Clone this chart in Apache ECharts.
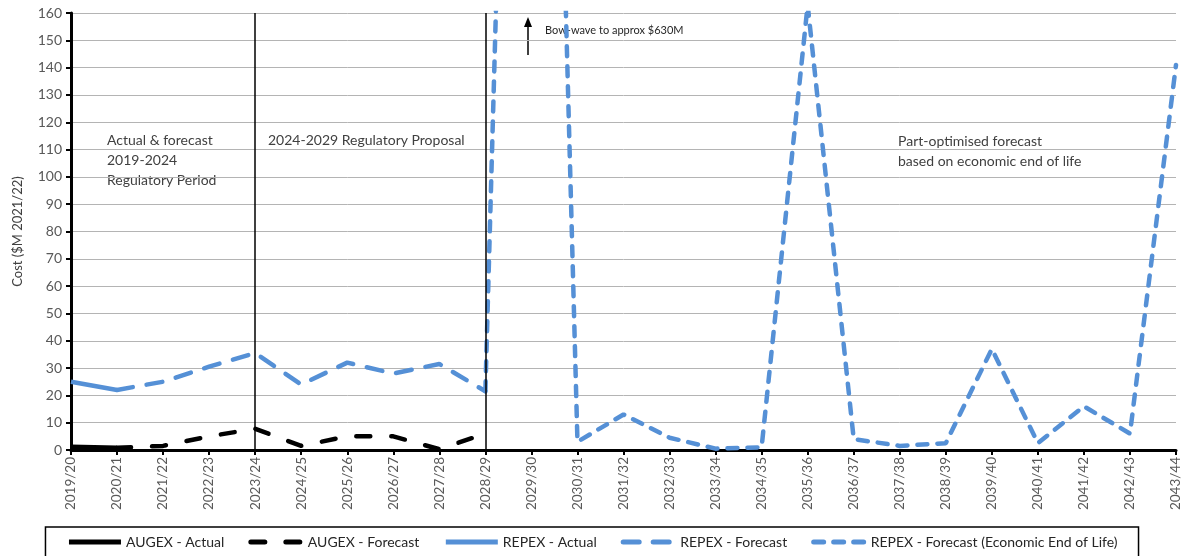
<!DOCTYPE html>
<html>
<head>
<meta charset="utf-8">
<script src="https://cdn.jsdelivr.net/npm/echarts@6/dist/echarts.min.js"></script>
<style>
html,body{margin:0;padding:0;background:#fff;}
#chart{width:1184px;height:556px;}
</style>
</head>
<body>
<div id="chart"></div>
<script>
const categories = ['2019/20','2020/21','2021/22','2022/23','2023/24','2024/25','2025/26','2026/27','2027/28','2028/29','2029/30','2030/31','2031/32','2032/33','2033/34','2034/35','2035/36','2036/37','2037/38','2038/39','2039/40','2040/41','2041/42','2042/43','2043/44'];
const augexActual   = [1.2, 0.8, null, null, null, null, null, null, null, null, null, null, null, null, null, null, null, null, null, null, null, null, null, null, null];
const augexForecast = [null, 0.8, 1.5, 5, 7.8, 1.5, 5, 5, 0.3, 6, null, null, null, null, null, null, null, null, null, null, null, null, null, null, null];
const repexActual   = [25, 22, null, null, null, null, null, null, null, null, null, null, null, null, null, null, null, null, null, null, null, null, null, null, null];
const repexForecast = [null, 22, 25, 30.5, 35.5, 24, 32, 28, 31.5, 21.5, null, null, null, null, null, null, null, null, null, null, null, null, null, null, null];
const repexEEoL     = [null, null, null, null, null, null, null, null, null, 21.5, 630, 3, 13, 4.5, 0.5, 1, 163, 4, 1.5, 2.5, 37, 2.5, 16, 6, 141];
const periodLines = ['2023/24', '2028/29'];
const yTicks = {min: 0, max: 160, interval: 10};

const FONT = 'Lato, "Open Sans", sans-serif';
const BLUE = '#5590d6';
const LW = 4.5;
const chart = echarts.init(document.getElementById('chart'));
chart.setOption({
  animation: false,
  textStyle: {fontFamily: FONT},
  grid: {left: 71, right: 8, top: 13, bottom: 106, containLabel: false},
  xAxis: {
    type: 'category', data: categories, boundaryGap: false,
    axisLine: {lineStyle: {color: '#000', width: 3}},
    axisTick: {show: true, length: 5, lineStyle: {color: '#000', width: 2}},
    axisLabel: {rotate: 90, color: '#595959', fontSize: 13.5, fontFamily: FONT, margin: 7},
    splitLine: {show: false}
  },
  yAxis: {
    type: 'value', min: yTicks.min, max: yTicks.max, interval: yTicks.interval,
    name: 'Cost ($M 2021/22)', nameLocation: 'middle', nameGap: 47, nameRotate: 90,
    nameTextStyle: {color: '#404040', fontSize: 13, fontFamily: FONT},
    axisLine: {show: true, lineStyle: {color: '#000', width: 3}},
    axisTick: {show: true, length: 5, lineStyle: {color: '#000', width: 2}},
    axisLabel: {color: '#595959', fontSize: 14, fontFamily: FONT, margin: 9},
    splitLine: {lineStyle: {color: '#b4b4b4', width: 1}}
  },
  legend: {
    left: 'center', top: 527,
    padding: [8, 21, 20, 21],
    borderColor: '#000', borderWidth: 1.5,
    itemWidth: 52, itemHeight: 12, itemGap: 24,
    itemStyle: {opacity: 0},
    lineStyle: {width: 5},
    textStyle: {color: '#262626', fontSize: 14, fontFamily: FONT},
    data: ['AUGEX - Actual','AUGEX - Forecast','REPEX - Actual','REPEX - Forecast','REPEX - Forecast (Economic End of Life)']
  },
  series: [
    {name: 'REPEX - Forecast (Economic End of Life)', type: 'line', data: repexEEoL, showSymbol: false, symbol: 'none', clip: true,
     lineStyle: {color: BLUE, width: LW, type: [10, 10], cap: 'round'}, itemStyle: {color: BLUE}},
    {name: 'REPEX - Forecast', type: 'line', data: repexForecast, showSymbol: false, symbol: 'none',
     lineStyle: {color: BLUE, width: LW, type: [16, 14], cap: 'round'}, itemStyle: {color: BLUE}},
    {name: 'REPEX - Actual', type: 'line', data: repexActual, showSymbol: false, symbol: 'none',
     lineStyle: {color: BLUE, width: LW}, itemStyle: {color: BLUE}},
    {name: 'AUGEX - Forecast', type: 'line', data: augexForecast, showSymbol: false, symbol: 'none',
     lineStyle: {color: '#000', width: LW, type: [14, 21], cap: 'round'}, itemStyle: {color: '#000'}},
    {name: 'AUGEX - Actual', type: 'line', data: augexActual, showSymbol: false, symbol: 'none',
     lineStyle: {color: '#000', width: LW}, itemStyle: {color: '#000'},
     markLine: {silent: true, symbol: ['none','none'], label: {show: false},
       lineStyle: {color: '#000', width: 1.5, type: 'solid'},
       data: periodLines.map(c => ({xAxis: c}))}}
  ],
  graphic: [
    {type: 'text', left: 107, top: 130, style: {text: 'Actual & forecast\n2019-2024\nRegulatory Period', fill: '#404040', font: '14px ' + FONT, lineHeight: 20}},
    {type: 'text', left: 268, top: 130, style: {text: '2024-2029 Regulatory Proposal', fill: '#404040', font: '14px ' + FONT, lineHeight: 20}},
    {type: 'text', left: 898, top: 131, style: {text: 'Part-optimised forecast\nbased on economic end of life', fill: '#404040', font: '14px ' + FONT, lineHeight: 20}},
    {type: 'text', left: 545, top: 25, style: {text: 'Bow-wave to approx $630M', fill: '#262626', font: '11px ' + FONT}},
    {type: 'line', shape: {x1: 528, y1: 55, x2: 528, y2: 24}, style: {stroke: '#000', lineWidth: 1.5}},
    {type: 'polygon', shape: {points: [[528, 17], [524, 27], [532, 27]]}, style: {fill: '#000'}}
  ]
});
</script>
</body>
</html>
